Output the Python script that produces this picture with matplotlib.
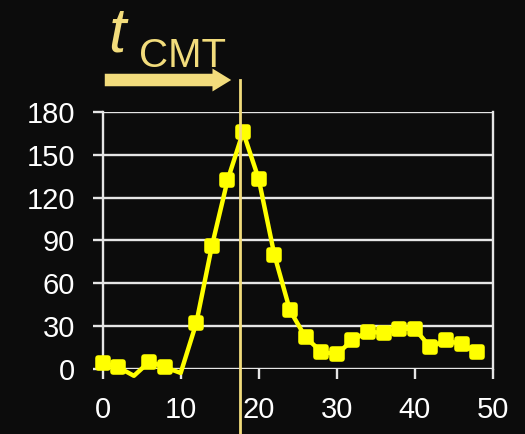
import numpy as np
import matplotlib.pyplot as plt
from matplotlib.markers import MarkerStyle

plt.rcParams['font.family'] = ['Liberation Sans', 'DejaVu Sans']

t_vals = [0, 2, 4, 6, 8, 10, 12, 14, 16, 18, 20, 22, 24,
          26, 28, 30, 32, 34, 36, 38, 40, 42, 44, 46, 48]
y_vals = [4, 1, -5, 5, 1, -3, 32, 86, 132, 166, 133, 80, 41,
          22, 12, 10, 20, 26, 25, 28, 28, 15, 20, 17, 12]
t_cmt = 17.6

x_ticks = [0, 10, 20, 30, 40, 50]
y_ticks = [0, 30, 60, 90, 120, 150, 180]

bg = '#0c0c0c'
gold = '#f2dc7c'
fg = '#e6e6e6'

fig = plt.figure(figsize=(5.25, 4.34), dpi=100, facecolor=bg)
ax = fig.add_axes([0.1956, 0.1505, 0.7429, 0.5915], facecolor=bg)

ax.set_xlim(0, 50)
ax.set_ylim(0, 180)
ax.set_xticks(x_ticks)
ax.set_yticks(y_ticks)
ax.grid(axis='y', color=fg, lw=1.7)
ax.set_axisbelow(True)
for side in ['left', 'right']:
	ax.spines[side].set_color(fg)
	ax.spines[side].set_linewidth(1.7)
for side in ['top', 'bottom']:
	ax.spines[side].set_visible(False)
ax.tick_params(direction='out', length=7, width=1.7, color=fg,
			   labelcolor='white', labelsize=21, pad=13)

# markers only where the value is on the scale
shown = [i for i, v in enumerate(y_vals) if v >= 0]
ax.plot(t_vals, y_vals, color='#ffff00', lw=3.2, clip_on=False,
		marker=MarkerStyle('s', joinstyle='round'), markersize=6.5,
		markeredgewidth=4, markevery=shown, zorder=3,
		solid_joinstyle='round')

# vertical line at t_CMT, running past the axes
x_line = ax.transData.transform((t_cmt, 0))[0] / fig.bbox.width
fig.add_artist(plt.Line2D([x_line, x_line], [0, 0.815], color=gold, lw=2,
						  transform=fig.transFigure, zorder=5))

# arrow and label above
ax.annotate('', xy=(234 / 525, 1 - 80 / 434), xytext=(102 / 525, 1 - 80 / 434),
			xycoords='figure fraction', textcoords='figure fraction',
			arrowprops=dict(arrowstyle='simple,head_length=0.9,head_width=1.1,tail_width=0.6',
							color=gold, lw=0, mutation_scale=15))
fig.text(108 / 525, 1 - 52 / 434, 't', color=gold, fontsize=45, style='italic',
		 ha='left', va='baseline')
fig.text(139 / 525, 1 - 67 / 434, 'CMT', color=gold, fontsize=29,
		 ha='left', va='baseline')

fig.savefig('out.png', dpi=100, facecolor=bg)
